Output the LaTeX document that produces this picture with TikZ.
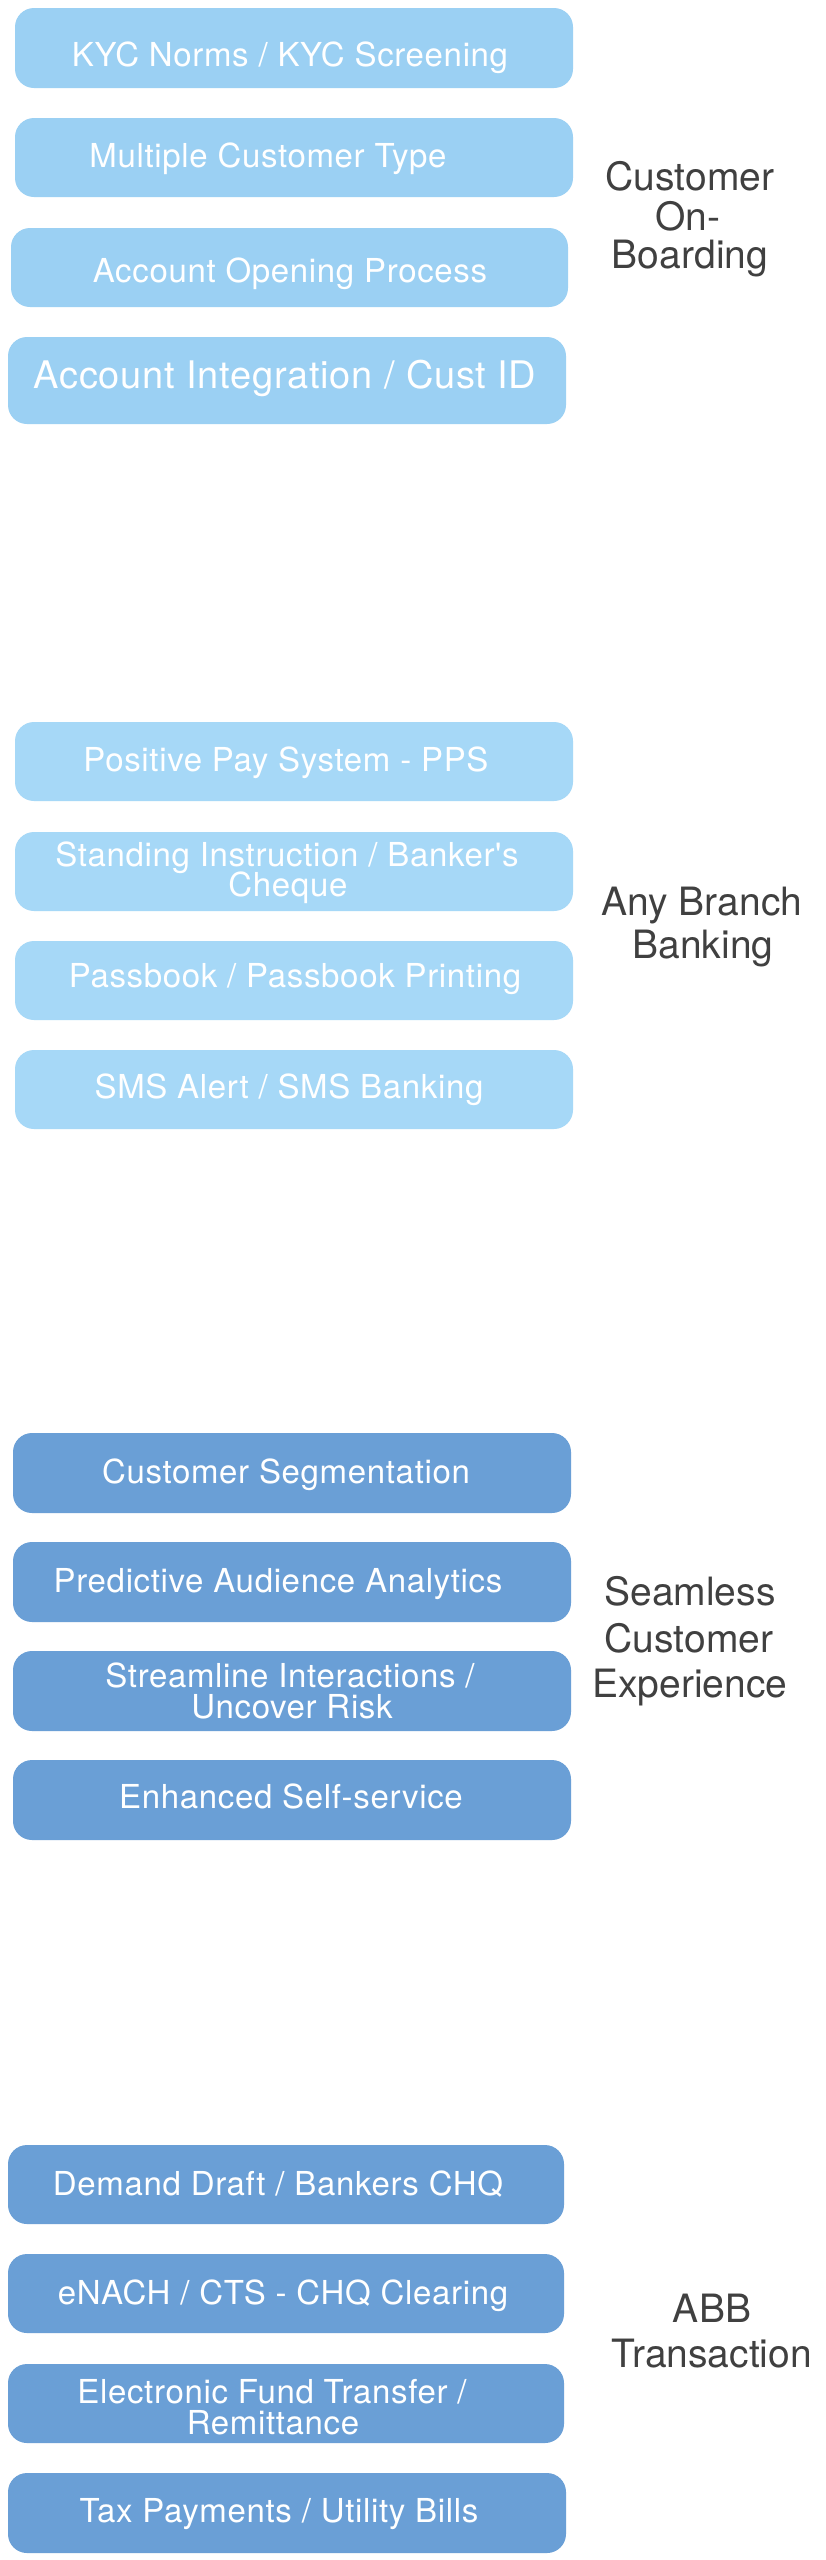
\documentclass[tikz,border=0pt]{standalone}
\usepackage{fontspec}
\setmainfont{TeX Gyre Heros}
\newfontfamily\boxfont[LetterSpace=2]{TeX Gyre Heros}
\definecolor{blueA}{RGB}{155,208,243}
\definecolor{blueB}{RGB}{166,216,247}
\definecolor{blueC}{RGB}{106,159,214}
\definecolor{labelgray}{RGB}{64,64,64}
\begin{document}
\begin{tikzpicture}[x=1pt,y=-1pt,
  card/.style={rectangle, rounded corners=19pt, draw=none, inner sep=0pt, minimum width=558pt, minimum height=79pt},
  cardA/.style={card, fill=blueA},
  cardB/.style={card, fill=blueB},
  cardC/.style={card, fill=blueC},
  ctext/.style={anchor=base, inner sep=0pt, text=white, align=center, font=\boxfont\fontsize{33}{34}\selectfont},
  glabel/.style={anchor=base, inner sep=0pt, text=labelgray, align=center, font=\fontsize{39}{40}\selectfont}
]
\useasboundingbox (0,0) rectangle (825,2560);
\fill[white] (0,0) rectangle (825,2560);

% Group 1
\node[cardA, minimum height=80pt] (a1) at (294,48) {};
\node[cardA] (a2) at (294,157.5) {};
\node[cardA, minimum width=557pt] (a3) at (289.5,267.5) {};
\node[cardA, minimum height=87pt] (a4) at (287,380.5) {};
\node[ctext] (a1t) at (290,66) {KYC Norms / KYC Screening};
\node[ctext] (a2t) at (268,167) {Multiple Customer Type};
\node[ctext] (a3t) at (290,282) {Account Opening Process};
\node[ctext, font=\boxfont\fontsize{38}{39}\selectfont] (a4t) at (285,388) {Account Integration / Cust ID};
\node[glabel] (la1) at (690,190) {Customer};
\node[glabel] (la2) at (688,230) {On-};
\node[glabel] (la3) at (690,268) {Boarding};

% Group 2
\node[cardB] (b1) at (294,761.5) {};
\node[cardB] (b2) at (294,871.5) {};
\node[cardB] (b3) at (294,980.5) {};
\node[cardB] (b4) at (294,1089.5) {};
\node[ctext] (b1t) at (286,771) {Positive Pay System - PPS};
\node[ctext] (b2t) at (287,866) {Standing Instruction / Banker's};
\node[ctext] (b2u) at (288,896) {Cheque};
\node[ctext] (b3t) at (295,987) {Passbook / Passbook Printing};
\node[ctext] (b4t) at (289,1098) {SMS Alert / SMS Banking};
\node[glabel] (lb1) at (702,915) {Any Branch};
\node[glabel] (lb2) at (703,958) {Banking};

% Group 3
\node[cardC, minimum height=80pt] (c1) at (292,1473) {};
\node[cardC, minimum height=80pt] (c2) at (292,1582) {};
\node[cardC, minimum height=80pt] (c3) at (292,1691) {};
\node[cardC, minimum height=80pt] (c4) at (292,1800) {};
\node[ctext] (c1t) at (286,1483) {Customer Segmentation};
\node[ctext] (c2t) at (278,1592) {Predictive Audience Analytics};
\node[ctext] (c3t) at (290,1687) {Streamline Interactions /};
\node[ctext] (c3u) at (292,1718) {Uncover Risk};
\node[ctext] (c4t) at (291,1808) {Enhanced Self-service};
\node[glabel] (lc1) at (690,1605) {Seamless};
\node[glabel] (lc2) at (689,1652) {Customer};
\node[glabel] (lc3) at (690,1697) {Experience};

% Group 4
\node[cardC, minimum width=556pt] (d1) at (286,2184.5) {};
\node[cardC, minimum width=556pt] (d2) at (286,2293.5) {};
\node[cardC, minimum width=556pt] (d3) at (286,2403.5) {};
\node[cardC, minimum height=80pt] (d4) at (287,2513) {};
\node[ctext] (d1t) at (278,2195) {Demand Draft / Bankers CHQ};
\node[ctext] (d2t) at (283,2304) {eNACH / CTS - CHQ Clearing};
\node[ctext] (d3t) at (272,2403) {Electronic Fund Transfer /};
\node[ctext] (d3u) at (273,2434) {Remittance};
\node[ctext] (d4t) at (279,2522) {Tax Payments / Utility Bills};
\node[glabel] (ld1) at (712,2322) {ABB};
\node[glabel] (ld2) at (712,2367) {Transaction};
\end{tikzpicture}
\end{document}
